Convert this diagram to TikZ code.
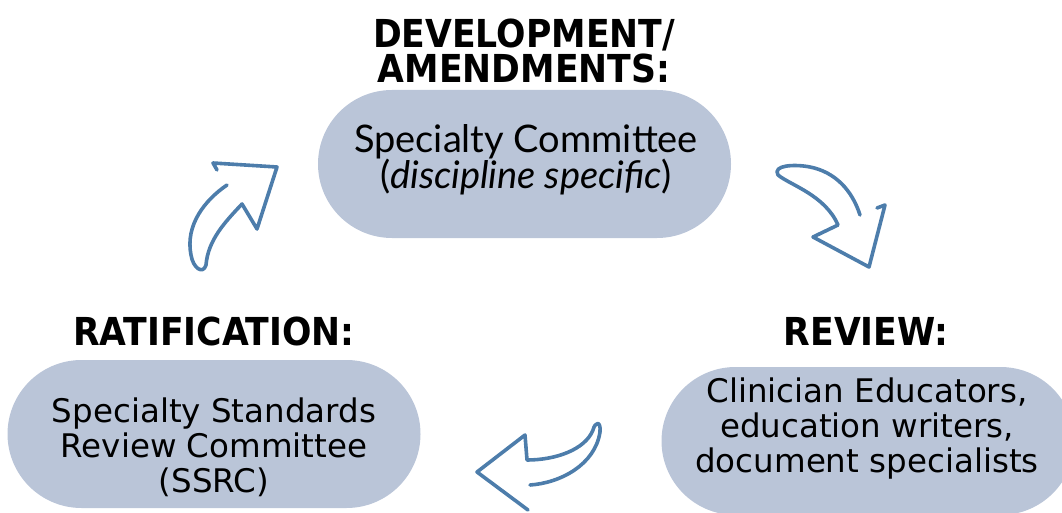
\documentclass[tikz,border=0pt]{standalone}
\usepackage{fontspec}
\setmainfont{DejaVu Sans}
\newfontfamily\latofont{Lato}
\newfontfamily\condfont{DejaVu Sans Condensed}
\definecolor{pillfill}{HTML}{BAC5D8}
\definecolor{arrowblue}{HTML}{4D7DAB}
\tikzset{
  pill/.style={rectangle, fill=pillfill, rounded corners=74pt, minimum width=413pt, minimum height=148pt, inner sep=0pt},
  heading/.style={font=\condfont\bfseries\fontsize{38.5}{36}\selectfont, align=center, inner sep=0pt, anchor=base},
  bodytext/.style={font=\fontsize{32.5}{35}\selectfont, align=center, inner sep=0pt},
  toptext/.style={font=\latofont\fontsize{38}{36}\selectfont, align=center, inner sep=0pt},
  bentarrow/.style={draw=arrowblue, line width=3.6pt, line join=round, line cap=round}
}
\begin{document}
\begin{tikzpicture}[x=1pt, y=-1pt]
\useasboundingbox (0,0) rectangle (1062,513);
\begin{scope}
\clip (0,0) rectangle (1062,513);
\node[pill] (top) at (524.5,164) {};
\node[pill] (left) at (214,434) {};
\node[pill] (right) at (868,441) {};
\end{scope}
\node[toptext] (toptxt) at (526,160) {Specialty Committee\\(\textit{discipline specific})};
\node[bodytext] (lefttxt) at (214,447) {Specialty Standards\\Review Committee\\(SSRC)};
\node[bodytext] (righttxt) at (867,429) {Clinician Educators,\\education writers,\\document specialists};
\node[heading] (devlabel) at (524,48) {DEVELOPMENT/};
\node[heading] (amdlabel) at (524,83) {AMENDMENTS:};
\node[heading] (ratlabel) at (214,345) {RATIFICATION:};
\node[heading] (revlabel) at (866,345) {REVIEW:};
% arrow upper left (pointing up-right)
\draw[bentarrow] (227,185) .. controls (205,200) and (185,225) .. (191,255)
  .. controls (193,268) and (203,275) .. (206,265)
  .. controls (208,240) and (225,222) .. (242,204)
  -- (257,229) -- (277,167) -- (213,163) -- (217,170);
% arrow upper right (pointing down-right)
\draw[bentarrow] (860,215) .. controls (852,190) and (835,172) .. (810,167)
  .. controls (795,164) and (772,165) .. (778,175)
  .. controls (790,185) and (825,195) .. (838,225)
  -- (813,237) -- (869,267) -- (885,205) -- (877,208);
% arrow bottom (pointing left)
\draw[bentarrow] (530,485) .. controls (560,483) and (595,465) .. (600,432)
  .. controls (601,420) and (595,422) .. (593,430)
  .. controls (585,450) and (555,460) .. (527,460)
  -- (525,435) -- (477,472) -- (528,510);
\end{tikzpicture}
\end{document}
